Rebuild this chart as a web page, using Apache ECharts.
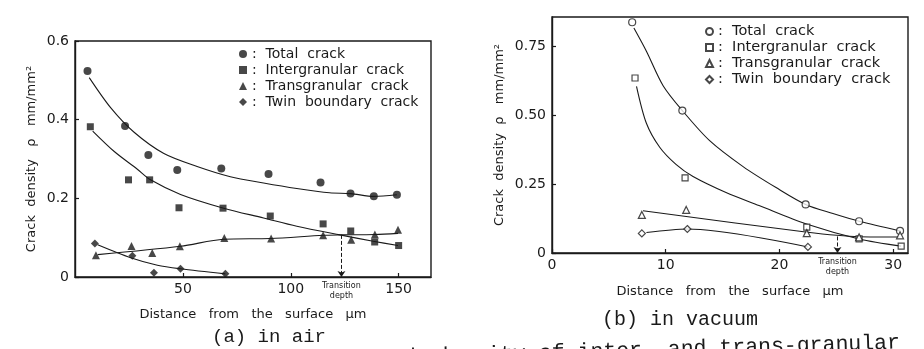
<!DOCTYPE html>
<html>
<head>
<meta charset="utf-8">
<script src="https://cdn.jsdelivr.net/npm/echarts@6/dist/echarts.min.js"></script>
<style>
  html, body { margin: 0; padding: 0; background: #fff; }
  #chart { width: 924px; height: 349px; }
</style>
</head>
<body>
<div id="chart"></div>
<script>
// (a) in air: measured points [distance µm, density]
const airTotal = [[5.8, 0.524], [23.2, 0.384], [34, 0.31], [47.4, 0.272], [67.8, 0.276], [89.7, 0.262], [113.8, 0.24], [127.7, 0.212], [138.5, 0.205], [149.2, 0.209]];
const airInter = [[7.1, 0.382], [24.8, 0.247], [34.6, 0.247], [48.2, 0.176], [68.6, 0.175], [90.5, 0.155], [115, 0.135], [127.8, 0.117], [138.9, 0.089], [150, 0.08]];
const airTrans = [[9.7, 0.055], [26.2, 0.079], [35.8, 0.061], [48.6, 0.078], [69.2, 0.099], [90.9, 0.098], [115, 0.106], [128, 0.095], [139, 0.108], [149.7, 0.12]];
const airTwin = [[9.2, 0.085], [26.6, 0.054], [36.6, 0.011], [48.9, 0.021], [69.7, 0.008]];

// hand-drawn curves
const airTotalCurve = [[6.6, 0.507], [16.6, 0.43], [27.4, 0.368], [41.2, 0.314], [56.6, 0.281], [72, 0.255], [87.4, 0.239], [102.8, 0.225], [118, 0.214], [127.7, 0.212], [138.5, 0.205], [149.2, 0.209]];
const airInterCurve = [[8.2, 0.371], [18.2, 0.319], [28.9, 0.274], [35, 0.247], [48.9, 0.21], [68.9, 0.175], [87.4, 0.15], [102.8, 0.129], [122.8, 0.107], [138.2, 0.091], [149.7, 0.08]];
const airTransCurve = [[10.5, 0.057], [48.9, 0.078], [68.9, 0.096], [90.5, 0.098], [115, 0.106], [122.8, 0.107], [139, 0.108], [149.7, 0.111]];
const airTwinCurve = [[10.5, 0.082], [25.8, 0.049], [38.2, 0.03], [48.9, 0.021], [69.7, 0.008]];

// (b) in vacuum
const vacTotal = [[7.05, 0.836], [11.46, 0.516], [22.3, 0.176], [27, 0.115], [30.6, 0.08]];
const vacInter = [[7.3, 0.634], [11.7, 0.272], [22.4, 0.094], [27, 0.051], [30.7, 0.025]];
const vacTrans = [[7.9, 0.138], [11.8, 0.156], [22.4, 0.072], [27, 0.057], [30.6, 0.064]];
const vacTwin = [[7.9, 0.071], [11.9, 0.087], [22.5, 0.022]];

const vacTotalCurve = [[7.2, 0.815], [8.3, 0.731], [9.77, 0.606], [11.46, 0.516], [13.86, 0.407], [16.8, 0.313], [19.7, 0.237], [22.3, 0.176], [24.7, 0.143], [27, 0.115], [30.6, 0.08]];
const vacInterCurve = [[7.43, 0.604], [8.3, 0.47], [9.47, 0.383], [10.9, 0.321], [12.4, 0.277], [15.3, 0.219], [18.2, 0.172], [22.3, 0.106], [27, 0.051], [30.7, 0.025]];
const vacTransCurve = [[8, 0.153], [22.3, 0.076], [27, 0.059], [30.5, 0.058]];
const vacTwinCurve = [[8.3, 0.074], [11.9, 0.087], [22.5, 0.022]];

const crackTypes = ['Total  crack', 'Intergranular  crack', 'Transgranular  crack', 'Twin  boundary  crack'];
const symbols = ['circle', 'rect', 'triangle', 'diamond'];
const airTransition = [123.5, 0.107];
const vacTransition = [25.1, 0.06];

const INK = '#1a1a1a';
const FONT = 'DejaVu Sans';

function pointSeries(prefix, data, i, grid, filled) {
  return {
    name: prefix + '|' + crackTypes[i],
    type: 'scatter',
    xAxisIndex: grid,
    yAxisIndex: grid,
    data: data,
    symbol: symbols[i],
    symbolSize: filled ? (i === 1 ? 7 : 8) : (i === 1 ? 6 : 7),
    itemStyle: filled
      ? { color: INK }
      : { color: '#fff', borderColor: INK, borderWidth: 1.2 },
    z: 3,
  };
}

function curveSeries(data, grid) {
  return {
    type: 'line',
    xAxisIndex: grid,
    yAxisIndex: grid,
    data: data,
    smooth: 0.3,
    showSymbol: false,
    silent: true,
    lineStyle: { color: INK, width: 1.1 },
    z: 2,
  };
}

function transitionLine(pt, grid) {
  return {
    type: 'line',
    xAxisIndex: grid,
    yAxisIndex: grid,
    data: [],
    silent: true,
    markLine: {
      silent: true,
      symbol: ['none', 'arrow'],
      symbolSize: 6,
      lineStyle: { color: INK, type: 'dashed', width: 1 },
      label: {
        show: true,
        position: 'end',
        formatter: 'Transition\ndepth',
        color: INK,
        fontFamily: FONT,
        fontSize: 8,
        lineHeight: 10,
        distance: 4,
      },
      data: [[{ coord: [pt[0], pt[1]] }, { coord: [pt[0], 0] }]],
    },
  };
}

const axisCommon = {
  axisLine: { lineStyle: { color: INK, width: 1.4 } },
  axisTick: { inside: true, length: 4, lineStyle: { color: INK, width: 1.2 } },
  splitLine: { show: false },
  nameTextStyle: { color: INK, fontFamily: FONT, fontSize: 13 },
};

const xName = 'Distance   from   the   surface   µm';

const chart = echarts.init(document.getElementById('chart'));
chart.setOption({
  backgroundColor: '#fff',
  animation: false,
  grid: [
    { left: 75, top: 41, width: 356, height: 236, show: true, borderColor: INK, borderWidth: 1.4 },
    { left: 552, top: 17, width: 356, height: 236, show: true, borderColor: INK, borderWidth: 1.4 },
  ],
  xAxis: [
    {
      ...axisCommon,
      type: 'value', gridIndex: 0, min: 0, max: 165, interval: 50,
      axisLabel: { color: INK, fontFamily: FONT, fontSize: 14, margin: 5, showMinLabel: false, showMaxLabel: false },
      name: xName, nameLocation: 'middle', nameGap: 31,
    },
    {
      ...axisCommon,
      type: 'value', gridIndex: 1, min: 0, max: 31.3, interval: 10,
      axisLabel: { color: INK, fontFamily: FONT, fontSize: 14, margin: 5, showMaxLabel: false },
      name: xName, nameLocation: 'middle', nameGap: 32,
    },
  ],
  yAxis: [
    {
      ...axisCommon,
      type: 'value', gridIndex: 0, min: 0, max: 0.6, interval: 0.2,
      axisLabel: { color: INK, fontFamily: FONT, fontSize: 14, margin: 6, formatter: v => (v === 0 ? '0' : v.toFixed(1)) },
      name: 'Crack  density   ρ   mm/mm²', nameLocation: 'middle', nameGap: 37, nameRotate: 90,
    },
    {
      ...axisCommon,
      type: 'value', gridIndex: 1, min: 0, max: 0.855, interval: 0.25,
      axisLabel: { color: INK, fontFamily: FONT, fontSize: 14, margin: 6, showMaxLabel: false, formatter: v => (v === 0 ? '0' : v.toFixed(2)) },
      name: 'Crack  density  ρ   mm/mm²', nameLocation: 'middle', nameGap: 46, nameRotate: 90,
    },
  ],
  legend: [
    {
      left: 234, top: 42, orient: 'vertical', itemGap: 2, itemWidth: 8, itemHeight: 8,
      data: crackTypes.map(t => 'air|' + t),
      formatter: n => ':  ' + n.split('|')[1],
      textStyle: { color: INK, fontFamily: FONT, fontSize: 14 },
      selectedMode: false,
    },
    {
      left: 700, top: 19, orient: 'vertical', itemGap: 1, itemWidth: 7, itemHeight: 7,
      data: crackTypes.map(t => 'vac|' + t),
      formatter: n => ':  ' + n.split('|')[1],
      textStyle: { color: INK, fontFamily: FONT, fontSize: 14.5 },
      selectedMode: false,
    },
  ],
  graphic: [
    { type: 'text', left: 212, top: 327, style: { text: '(a) in air', fill: INK, font: '19px "Liberation Mono"' } },
    { type: 'text', left: 602, top: 310, style: { text: '(b) in vacuum', fill: INK, font: '20px "Liberation Mono"' } },
    { type: 'text', x: 358, y: 348, rotation: 0.03, style: { text: 'crack density of inter- and trans-granular', fill: INK, font: '21.5px "Liberation Mono"' } },
  ],
  series: [
    curveSeries(airTotalCurve, 0),
    curveSeries(airInterCurve, 0),
    curveSeries(airTransCurve, 0),
    curveSeries(airTwinCurve, 0),
    pointSeries('air', airTotal, 0, 0, true),
    pointSeries('air', airInter, 1, 0, true),
    pointSeries('air', airTrans, 2, 0, true),
    pointSeries('air', airTwin, 3, 0, true),
    transitionLine(airTransition, 0),
    curveSeries(vacTotalCurve, 1),
    curveSeries(vacInterCurve, 1),
    curveSeries(vacTransCurve, 1),
    curveSeries(vacTwinCurve, 1),
    pointSeries('vac', vacTotal, 0, 1, false),
    pointSeries('vac', vacInter, 1, 1, false),
    pointSeries('vac', vacTrans, 2, 1, false),
    pointSeries('vac', vacTwin, 3, 1, false),
    transitionLine(vacTransition, 1),
  ],
});
</script>
</body>
</html>
